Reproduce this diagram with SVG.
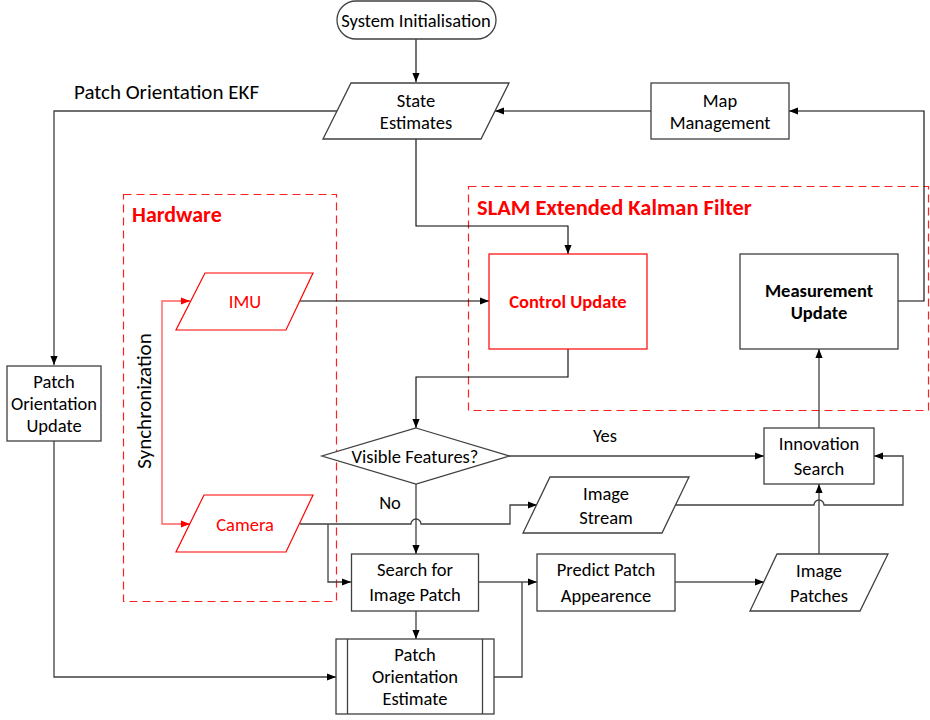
<svg xmlns="http://www.w3.org/2000/svg" width="930" height="720" viewBox="0 0 930 720">
<defs>
<style>
text{font-family:Carlito,Lato,"Liberation Sans",sans-serif;font-size:18.5px;fill:#000;text-anchor:middle;dominant-baseline:central}
.b{stroke:#404040;stroke-width:1.3;fill:#fff}
.r{stroke:#ff0000;stroke-width:1.2;fill:#fff}
.c{stroke:#000;stroke-width:1.1;fill:none}
.cg{stroke:#404040;stroke-width:1.3;fill:none}
.dash{stroke:#ff2020;stroke-width:1.2;fill:none;stroke-dasharray:8 5}
.sync{stroke:#ff6060;stroke-width:1.4;fill:none}
.red{fill:#ff0000}
.bold{font-weight:bold}
</style>
<marker id="ah" viewBox="0 0 10 10" refX="10" refY="5" markerWidth="9" markerHeight="9" markerUnits="userSpaceOnUse" orient="auto"><path d="M0,1 L10,5 L0,9 z" fill="#000"/></marker>
<marker id="ahr" viewBox="0 0 10 10" refX="10" refY="5" markerWidth="9" markerHeight="9" markerUnits="userSpaceOnUse" orient="auto"><path d="M0,1 L10,5 L0,9 z" fill="#ff0000"/></marker>
</defs>
<rect width="930" height="720" fill="#fff"/>

<g id="groups">
<rect class="dash" x="123.5" y="194.5" width="213" height="407"/>
<text class="red bold" x="132" y="214" style="text-anchor:start;font-size:22px">Hardware</text>
<rect class="dash" x="468.5" y="186.5" width="460" height="224"/>
<text class="red bold" x="477" y="207" style="text-anchor:start;font-size:22.5px">SLAM Extended Kalman Filter</text>
<text x="74" y="92" style="text-anchor:start;font-size:21px">Patch Orientation EKF</text>
</g>

<g id="connectors">
<path class="c" d="M416,39 V82" marker-end="url(#ah)"/>
<path class="cg" d="M337,111 H54 V365" marker-end="url(#ah)"/>
<path class="c" d="M651,111 H495" marker-end="url(#ah)"/>
<path class="c" d="M898,301 H924 V111 H789" marker-end="url(#ah)"/>
<path class="c" d="M416,139 V226 H568 V254" marker-end="url(#ah)"/>
<path class="c" d="M300,301 H489" marker-end="url(#ah)"/>
<path class="c" d="M568,349 V377 H416 V428" marker-end="url(#ah)"/>
<path class="cg" d="M509,456 H764" marker-end="url(#ah)"/>
<text x="605" y="435">Yes</text>
<path class="cg" d="M819,428 V349" marker-end="url(#ah)"/>
<path class="cg" d="M819,554 V484" marker-end="url(#ah)"/>
<path class="cg" d="M675,505 H814 A5,5 0 0 1 824,505 H903 V456 H874" marker-end="url(#ah)"/>
<path class="cg" d="M416,484 V554" marker-end="url(#ah)"/>
<text x="390" y="502">No</text>
<path class="cg" d="M300,524 H411 A5,5 0 0 1 421,524 H510 V505 H537" marker-end="url(#ah)"/>
<path class="cg" d="M328,524 V582 H351" marker-end="url(#ah)"/>
<path class="cg" d="M416,611 V639" marker-end="url(#ah)"/>
<path class="c" d="M478,582 H537" marker-end="url(#ah)"/>
<path class="cg" d="M494,677 H522 V582"/>
<path class="c" d="M675,582 H764" marker-end="url(#ah)"/>
<path class="cg" d="M54,441 V677 H336" marker-end="url(#ah)"/>
<path class="sync" d="M190,301 H162 V524 H190"/>
<path class="sync" d="M180,301 H190" marker-end="url(#ahr)"/>
<path class="sync" d="M180,524 H190" marker-end="url(#ahr)"/>
<text x="144" y="401" transform="rotate(-90 144 401)" style="font-size:21px">Synchronization</text>
</g>

<g id="n-init">
<rect class="b" x="337" y="1" width="159" height="38" rx="19"/>
<text x="416" y="20">System Initialisation</text>
</g>
<g id="n-state">
<polygon class="b" points="351,83 509,83 481,139 323,139"/>
<text x="416" y="100">State</text>
<text x="416" y="122">Estimates</text>
</g>
<g id="n-map">
<rect class="b" x="651" y="83" width="138" height="56"/>
<text x="720" y="100">Map</text>
<text x="720" y="122">Management</text>
</g>
<g id="n-control">
<rect class="r" x="489" y="254" width="158" height="95"/>
<text class="red bold" x="568" y="301">Control Update</text>
</g>
<g id="n-measure">
<rect class="b" x="740" y="254" width="158" height="95"/>
<text class="bold" x="819" y="290">Measurement</text>
<text class="bold" x="819" y="312">Update</text>
</g>
<g id="n-imu">
<polygon class="r" points="205,273 313,273 286,330 176,330"/>
<text class="red" x="245" y="301">IMU</text>
</g>
<g id="n-camera">
<polygon class="r" points="204,495 313,495 286,552 176,552"/>
<text class="red" x="245" y="524">Camera</text>
</g>
<g id="n-visible">
<polygon class="b" points="416,428 509,456 416,484 322,456"/>
<text x="415" y="456">Visible Features?</text>
</g>
<g id="n-innov">
<rect class="b" x="764" y="428" width="110" height="56"/>
<text x="819" y="443">Innovation</text>
<text x="819" y="468">Search</text>
</g>
<g id="n-stream">
<polygon class="b" points="550,477 689,477 662,533 523,533"/>
<text x="606" y="493">Image</text>
<text x="606" y="517">Stream</text>
</g>
<g id="n-search">
<rect class="b" x="351.5" y="554" width="127" height="57"/>
<text x="415" y="569">Search for</text>
<text x="415" y="594">Image Patch</text>
</g>
<g id="n-predict">
<rect class="b" x="537" y="554" width="138" height="57"/>
<text x="606" y="569">Predict Patch</text>
<text x="606" y="595">Appearence</text>
</g>
<g id="n-patches">
<polygon class="b" points="777,554 888,554 860,611 750,611"/>
<text x="819" y="570">Image</text>
<text x="819" y="595">Patches</text>
</g>
<g id="n-poupdate">
<rect class="b" x="7" y="366" width="94" height="75"/>
<text x="54" y="381">Patch</text>
<text x="54" y="403">Orientation</text>
<text x="54" y="425">Update</text>
</g>
<g id="n-poest">
<rect class="b" x="336" y="639" width="158" height="75"/>
<path class="b" d="M347.5,639 V714 M482.5,639 V714"/>
<text x="415" y="654">Patch</text>
<text x="415" y="676">Orientation</text>
<text x="415" y="698">Estimate</text>
</g>
</svg>
